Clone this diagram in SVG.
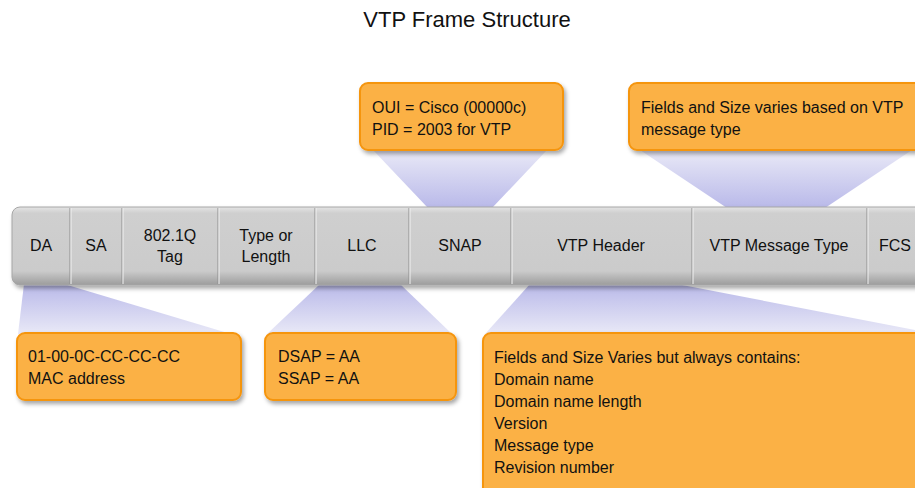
<svg xmlns="http://www.w3.org/2000/svg" width="915" height="488" viewBox="0 0 915 488">
  <defs>
    <linearGradient id="barFill" x1="0" y1="0" x2="0" y2="1">
      <stop offset="0" stop-color="#e4e4e4"/>
      <stop offset="0.08" stop-color="#cfcfcf"/>
      <stop offset="0.82" stop-color="#cbcbcb"/>
      <stop offset="1" stop-color="#9c9c9c"/>
    </linearGradient>
    <linearGradient id="beamDown" x1="0" y1="0" x2="0" y2="1">
      <stop offset="0" stop-color="#b9b9e9"/>
      <stop offset="1" stop-color="#e9e9f7"/>
    </linearGradient>
    <linearGradient id="beamUp" x1="0" y1="1" x2="0" y2="0">
      <stop offset="0" stop-color="#b9b9e9"/>
      <stop offset="1" stop-color="#e9e9f7"/>
    </linearGradient>
    <filter id="shadow" x="-10%" y="-20%" width="130%" height="150%">
      <feDropShadow dx="2" dy="3" stdDeviation="2" flood-color="#000" flood-opacity="0.35"/>
    </filter>
  </defs>
  <style>
    .title { font-family: "Liberation Sans", Arial, sans-serif; font-size: 22px; fill: #111; text-anchor: middle; }
    .field { font-family: "Liberation Sans", Arial, sans-serif; font-size: 16px; fill: #111; text-anchor: middle; }
    .note { font-family: "Liberation Sans", Arial, sans-serif; font-size: 16px; fill: #111; }
    .box { fill: #fbb144; stroke: #f5950f; stroke-width: 2; filter: url(#shadow); }
    .div { stroke: #8e8e8e; stroke-width: 1; }
    .hl { stroke: #f2f2f2; stroke-width: 1; }
  </style>

  <rect width="915" height="488" fill="#ffffff"/>

  <text class="title" x="467" y="27">VTP Frame Structure</text>

  <!-- callout beams linking notes to frame fields -->
  <g id="connectors">
    <polygon points="373,150 547,150 492,208 428,208" fill="url(#beamUp)"/>
    <polygon points="640,150 912,150 825,208 727,208" fill="url(#beamUp)"/>
    <polygon points="24,284 64,284 231,334 18,334" fill="url(#beamDown)"/>
    <polygon points="320,284 400,284 452,334 267,334" fill="url(#beamDown)"/>
    <polygon points="530,284 677,284 915,330 915,334 485,334" fill="url(#beamDown)"/>
  </g>

  <!-- frame bar -->
  <g id="frame">
    <rect x="12" y="207" width="920" height="78" rx="8" fill="url(#barFill)" stroke="#a6a6a6" stroke-width="1" filter="url(#shadow)"/>
    <g>
      <line class="div" x1="70" y1="208" x2="70" y2="284"/><line class="hl" x1="71" y1="208" x2="71" y2="284"/>
      <line class="div" x1="122" y1="208" x2="122" y2="284"/><line class="hl" x1="123" y1="208" x2="123" y2="284"/>
      <line class="div" x1="218" y1="208" x2="218" y2="284"/><line class="hl" x1="219" y1="208" x2="219" y2="284"/>
      <line class="div" x1="315" y1="208" x2="315" y2="284"/><line class="hl" x1="316" y1="208" x2="316" y2="284"/>
      <line class="div" x1="409" y1="208" x2="409" y2="284"/><line class="hl" x1="410" y1="208" x2="410" y2="284"/>
      <line class="div" x1="511" y1="208" x2="511" y2="284"/><line class="hl" x1="512" y1="208" x2="512" y2="284"/>
      <line class="div" x1="692" y1="208" x2="692" y2="284"/><line class="hl" x1="693" y1="208" x2="693" y2="284"/>
      <line class="div" x1="867" y1="208" x2="867" y2="284"/><line class="hl" x1="868" y1="208" x2="868" y2="284"/>
    </g>
    <text class="field" x="41" y="251">DA</text>
    <text class="field" x="96" y="251">SA</text>
    <text class="field" x="170" y="241">802.1Q</text>
    <text class="field" x="170" y="262">Tag</text>
    <text class="field" x="266" y="241">Type or</text>
    <text class="field" x="266" y="262">Length</text>
    <text class="field" x="362" y="251">LLC</text>
    <text class="field" x="460" y="251">SNAP</text>
    <text class="field" x="601" y="251">VTP Header</text>
    <text class="field" x="779" y="251">VTP Message Type</text>
    <text class="field" x="895" y="251">FCS</text>
  </g>

  <g id="note-snap">
    <rect class="box" x="360" y="83" width="203" height="67" rx="8"/>
    <text class="note" x="372" y="113">OUI = Cisco (00000c)</text>
    <text class="note" x="372" y="135">PID = 2003 for VTP</text>
  </g>

  <g id="note-msgtype">
    <rect class="box" x="629" y="83" width="300" height="67" rx="8"/>
    <text class="note" x="641" y="113">Fields and Size varies based on VTP</text>
    <text class="note" x="641" y="135">message type</text>
  </g>

  <g id="note-da">
    <rect class="box" x="17" y="333" width="224" height="67" rx="8"/>
    <text class="note" x="28" y="362">01-00-0C-CC-CC-CC</text>
    <text class="note" x="28" y="384">MAC address</text>
  </g>

  <g id="note-llc">
    <rect class="box" x="265" y="333" width="191" height="67" rx="8"/>
    <text class="note" x="278" y="362">DSAP = AA</text>
    <text class="note" x="278" y="384">SSAP = AA</text>
  </g>

  <g id="note-header">
    <rect class="box" x="483" y="333" width="450" height="170" rx="8"/>
    <text class="note" x="494" y="363">Fields and Size Varies but always contains:</text>
    <text class="note" x="494" y="385">Domain name</text>
    <text class="note" x="494" y="407">Domain name length</text>
    <text class="note" x="494" y="429">Version</text>
    <text class="note" x="494" y="451">Message type</text>
    <text class="note" x="494" y="473">Revision number</text>
  </g>
</svg>
